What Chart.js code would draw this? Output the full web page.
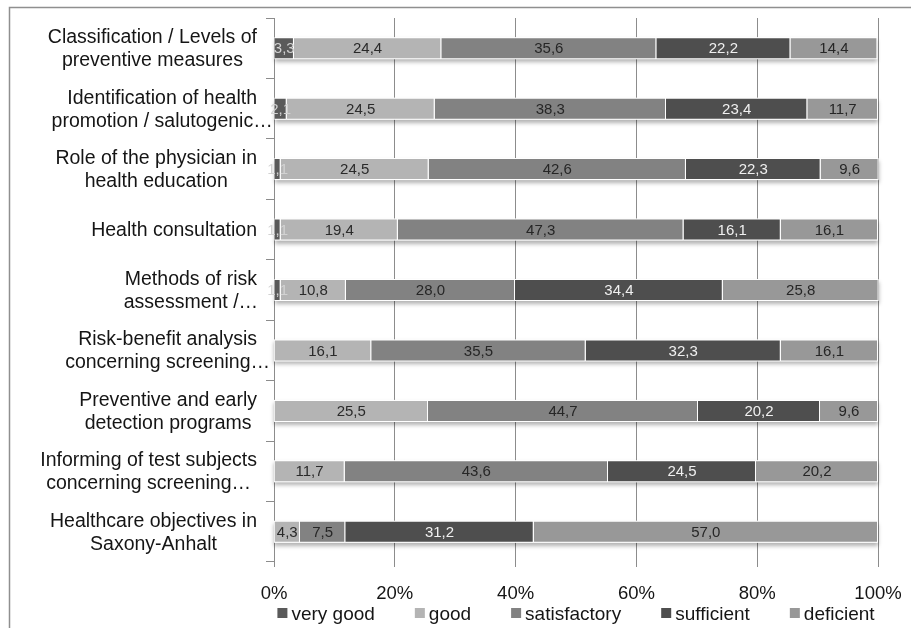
<!DOCTYPE html>
<html>
<head>
<meta charset="utf-8">
<script src="https://cdn.jsdelivr.net/npm/chart.js@4.4.1/dist/chart.umd.min.js"></script>
<style>
  html, body { margin: 0; padding: 0; background: #fff; }
  #wrap { width: 911px; height: 628px; position: relative; }
</style>
</head>
<body>
<div id="wrap"><canvas id="c"></canvas></div>
<script>
// Survey topics (one bar each) and the share of each rating, in percent
const categories = [
  ['Classification / Levels of', 'preventive measures'],
  ['Identification of health', 'promotion / salutogenic…'],
  ['Role of the physician in', 'health education'],
  ['Health consultation'],
  ['Methods of risk', 'assessment /…'],
  ['Risk-benefit analysis', 'concerning screening…'],
  ['Preventive and early', 'detection programs'],
  ['Informing of test subjects', 'concerning screening…'],
  ['Healthcare objectives in', 'Saxony-Anhalt']
];
const seriesNames = ['very good', 'good', 'satisfactory', 'sufficient', 'deficient'];
const veryGood     = [3.3, 2.1, 1.1, 1.1, 1.1, 0, 0, 0, 0];
const good         = [24.4, 24.5, 24.5, 19.4, 10.8, 16.1, 25.5, 11.7, 4.3];
const satisfactory = [35.6, 38.3, 42.6, 47.3, 28.0, 35.5, 44.7, 43.6, 7.5];
const sufficient   = [22.2, 23.4, 22.3, 16.1, 34.4, 32.3, 20.2, 24.5, 31.2];
const deficient    = [14.4, 11.7, 9.6, 16.1, 25.8, 16.1, 9.6, 20.2, 57.0];
const xTickValues  = [0, 20, 40, 60, 80, 100];

const seriesValues = [veryGood, good, satisfactory, sufficient, deficient];
const fills      = ['#5a5a5a', '#b4b4b4', '#828282', '#4e4e4e', '#989898'];
const textColors = ['#d2d2d2', '#2a2a2a', '#262626', '#f0f0f0', '#262626'];
const FONT = '"Liberation Sans", Arial, sans-serif';
const fmt = v => v.toFixed(1).replace('.', ',');

// white page with a grey frame line along the top and left edges
const frame = {
  id: 'frame',
  beforeDraw(chart) {
    const ctx = chart.ctx;
    ctx.save();
    ctx.fillStyle = '#fff';
    ctx.fillRect(0, 0, chart.width, chart.height);
    ctx.strokeStyle = '#8f8f8f';
    ctx.lineWidth = 1.5;
    ctx.beginPath();
    ctx.moveTo(9.5, chart.height);
    ctx.lineTo(9.5, 7.5);
    ctx.lineTo(chart.width, 7.5);
    ctx.stroke();
    ctx.restore();
  }
};

// soft drop shadow under each full stacked bar
const barShadow = {
  id: 'barShadow',
  beforeDatasetsDraw(chart) {
    const ctx = chart.ctx;
    const metas = chart.data.datasets.map((d, i) => chart.getDatasetMeta(i));
    ctx.save();
    ctx.shadowColor = 'rgba(0,0,0,0.30)';
    ctx.shadowBlur = 4;
    ctx.shadowOffsetY = 3;
    ctx.fillStyle = '#ffffff';
    categories.forEach((c, i) => {
      let l = Infinity, r = -Infinity, y = 0, h = 0;
      metas.forEach(m => {
        const b = m.data[i].getProps(['x', 'y', 'base', 'height'], true);
        l = Math.min(l, b.x, b.base);
        r = Math.max(r, b.x, b.base);
        y = b.y; h = b.height;
      });
      ctx.fillRect(l, y - h / 2, r - l, h);
    });
    ctx.restore();
  }
};

// value printed in the middle of each segment
const valueLabels = {
  id: 'valueLabels',
  afterDatasetsDraw(chart) {
    const ctx = chart.ctx;
    ctx.save();
    ctx.font = '15px ' + FONT;
    ctx.textAlign = 'center';
    ctx.textBaseline = 'middle';
    chart.data.datasets.forEach((ds, di) => {
      chart.getDatasetMeta(di).data.forEach((bar, i) => {
        const v = ds.data[i];
        if (!v) return;
        const p = bar.getProps(['x', 'y', 'base'], true);
        ctx.fillStyle = textColors[di];
        ctx.fillText(fmt(v), (p.x + p.base) / 2, p.y + 1);
      });
    });
    ctx.restore();
  }
};

// topic names left of the axis, lines centred within each label block
const categoryLabels = {
  id: 'categoryLabels',
  afterDraw(chart) {
    const ys = chart.scales.y, ctx = chart.ctx;
    ctx.save();
    ctx.font = '19.5px ' + FONT;
    ctx.fillStyle = '#151515';
    ctx.textAlign = 'center';
    ctx.textBaseline = 'middle';
    const right = ys.right - 17, lh = 23;
    chart.data.labels.forEach((lines, i) => {
      const cy = ys.getPixelForValue(i);
      const cx = right - ctx.measureText(lines[0]).width / 2;
      lines.forEach((t, k) => ctx.fillText(t, cx, cy + (k - (lines.length - 1) / 2) * lh + 1));
    });
    ctx.restore();
  }
};

// legend row under the axis
const legendRow = {
  id: 'legendRow',
  afterDraw(chart) {
    const ctx = chart.ctx, area = chart.chartArea;
    ctx.save();
    ctx.font = '19px ' + FONT;
    ctx.textBaseline = 'middle';
    ctx.textAlign = 'left';
    const box = 10, gapIn = 4, gapOut = 40, cy = 615;
    const widths = chart.data.datasets.map(d => box + gapIn + ctx.measureText(d.label).width);
    const total = widths.reduce((a, b) => a + b, 0) + gapOut * (widths.length - 1);
    let x = (area.left + area.right) / 2 - total / 2;
    chart.data.datasets.forEach((d, i) => {
      ctx.fillStyle = d.backgroundColor;
      ctx.fillRect(x, cy - 7, box, box);
      ctx.fillStyle = '#151515';
      ctx.fillText(d.label, x + box + gapIn, cy);
      x += widths[i] + gapOut;
    });
    ctx.restore();
  }
};

new Chart(document.getElementById('c'), {
  type: 'bar',
  data: {
    labels: categories,
    datasets: seriesNames.map((name, i) => ({
      label: name,
      data: seriesValues[i],
      backgroundColor: fills[i],
      borderColor: 'rgba(255,255,255,0.9)',
      borderWidth: 1,
      barPercentage: 0.364,
      categoryPercentage: 1
    }))
  },
  options: {
    indexAxis: 'y',
    responsive: true,
    maintainAspectRatio: false,
    animation: false,
    layout: { padding: { left: 0, right: 33, top: 18, bottom: 0 } },
    plugins: { legend: { display: false }, tooltip: { enabled: false } },
    scales: {
      x: {
        stacked: true,
        min: 0,
        max: 100,
        afterBuildTicks(s) { s.ticks = xTickValues.map(v => ({ value: v })); },
        afterFit(s) { s.height = 66; s.paddingLeft = 0; s.paddingRight = 0; },
        ticks: {
          callback: v => v + '%',
          font: { family: FONT, size: 18.5 },
          color: '#151515',
          padding: 16,
          maxRotation: 0
        },
        grid: { color: '#8c8c8c', lineWidth: 1, tickLength: 5, drawTicks: true },
        border: { display: false }
      },
      y: {
        stacked: true,
        afterFit(s) { s.width = 274; },
        ticks: { display: false },
        grid: { drawOnChartArea: false, tickLength: 8, color: '#8c8c8c', offset: true },
        border: { display: true, color: '#8c8c8c', width: 1 }
      }
    }
  },
  plugins: [frame, barShadow, valueLabels, categoryLabels, legendRow]
});
</script>
</body>
</html>
